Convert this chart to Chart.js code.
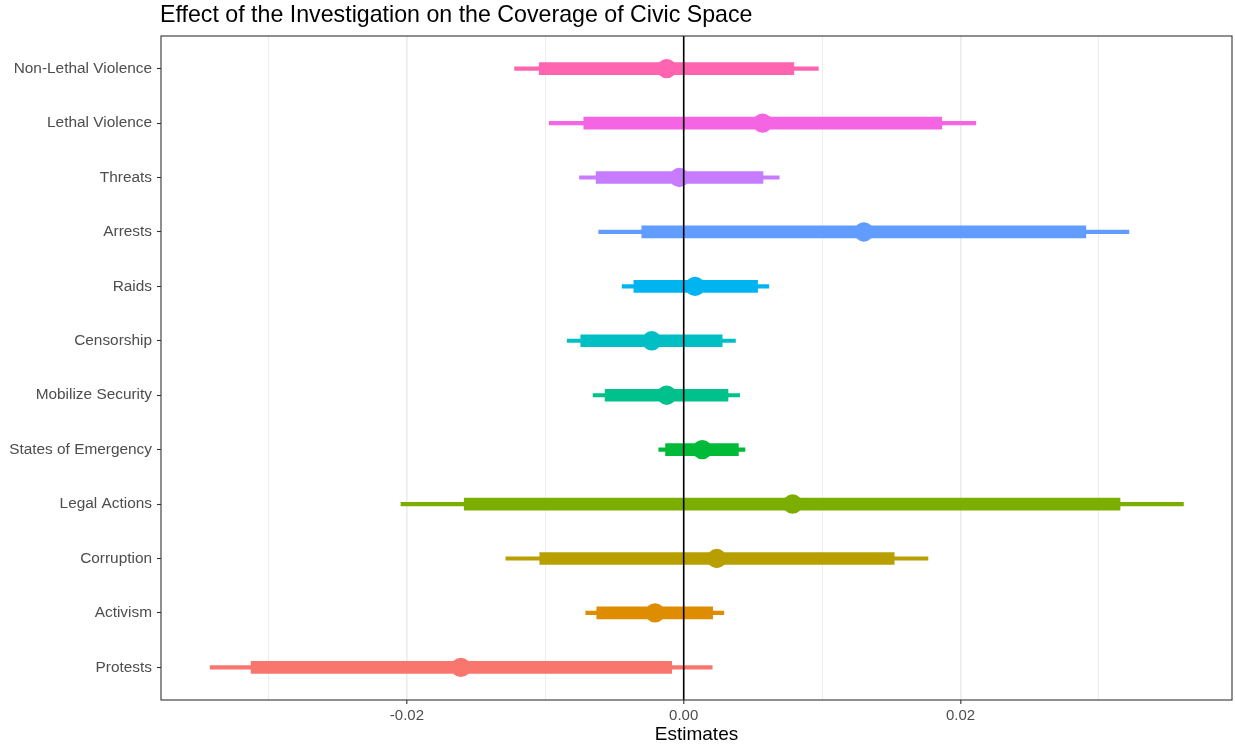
<!DOCTYPE html>
<html>
<head>
<meta charset="utf-8">
<script src="https://cdn.jsdelivr.net/npm/chart.js@4.4.1/dist/chart.umd.min.js"></script>
<style>
  body { margin: 0; background: #fff; overflow: hidden; }
  .wrap { width: 1235px; height: 746px; }
</style>
</head>
<body>
<div class="wrap"><canvas id="myChart"></canvas></div>
<script>
// rows from bottom (1) to top (12)
const categories = ["Protests", "Activism", "Corruption", "Legal Actions", "States of Emergency",
  "Mobilize Security", "Censorship", "Raids", "Arrests", "Threats", "Lethal Violence", "Non-Lethal Violence"];
const estimates = [-0.0161, -0.00207, 0.00239, 0.00787, 0.00134, -0.00123, -0.00231, 0.00082, 0.01302, -0.00032, 0.0057, -0.00123];
const low90 = [-0.03126, -0.00628, -0.0104, -0.01586, -0.00131, -0.00568, -0.00744, -0.0036, -0.00303, -0.00633, -0.00722, -0.01044];
const high90 = [-0.00087, 0.00209, 0.01521, 0.03153, 0.00395, 0.0032, 0.00278, 0.00534, 0.02906, 0.00573, 0.01865, 0.00796];
const low95 = [-0.03422, -0.00708, -0.01285, -0.02043, -0.0018, -0.00655, -0.00842, -0.00445, -0.00614, -0.00753, -0.00972, -0.01222];
const high95 = [0.00206, 0.0029, 0.01765, 0.03611, 0.00443, 0.00404, 0.00374, 0.00615, 0.03217, 0.0069, 0.02111, 0.00973];
const colors = ["#F8766D", "#DE8C00", "#B79F00", "#7CAE00", "#00BA38", "#00C08B",
  "#00BFC4", "#00B4F0", "#619CFF", "#C77CFF", "#F564E3", "#FF64B0"];
const xTicks = [-0.03, -0.02, -0.01, 0, 0.01, 0.02, 0.03];
const xLabels = { "-0.02": "-0.02", "0": "0.00", "0.02": "0.02" };
const titleText = "Effect of the Investigation on the Coverage of Civic Space";
const refLine = 0;

const fontFam = '"Liberation Sans", Arial, sans-serif';

const labelFor = (v) => xLabels[String(Math.round(v * 100) / 100)];
const isMajor = (c) => !!(c && c.tick && labelFor(c.tick.value) !== undefined);

const panelPlugin = {
    id: "panel",
    afterDatasetsDraw(chart) {
        const { ctx, chartArea, scales } = chart;
        const px = scales.x.getPixelForValue(refLine);
        ctx.save();
        ctx.strokeStyle = "#000";
        ctx.lineWidth = 1.6;
        ctx.beginPath();
        ctx.moveTo(px, chartArea.top);
        ctx.lineTo(px, chartArea.bottom);
        ctx.stroke();
        ctx.restore();
    },
    afterDraw(chart) {
        const { ctx, chartArea } = chart;
        ctx.save();
        ctx.strokeStyle = "#333333";
        ctx.lineWidth = 1.1;
        ctx.strokeRect(chartArea.left, chartArea.top, chartArea.right - chartArea.left, chartArea.bottom - chartArea.top);
        ctx.fillStyle = "#000";
        ctx.font = "23.2px " + fontFam;
        ctx.textBaseline = "alphabetic";
        ctx.textAlign = "left";
        ctx.fillText(titleText, 160, 22);
        ctx.restore();
    }
};

const rangeData = (lo, hi) => categories.map((c, i) => ({ y: i + 1, x: [lo[i], hi[i]] }));

new Chart(document.getElementById("myChart"), {
    type: "bar",
    data: {
        datasets: [
            {
                type: "scatter",
                data: categories.map((c, i) => ({ x: estimates[i], y: i + 1 })),
                backgroundColor: colors,
                borderWidth: 0,
                pointRadius: 9.7,
                order: 0
            },
            {
                type: "bar",
                indexAxis: "y",
                data: rangeData(low90, high90),
                backgroundColor: colors,
                barThickness: 12,
                grouped: false,
                borderSkipped: false,
                borderWidth: 0,
                order: 1
            },
            {
                type: "bar",
                indexAxis: "y",
                data: rangeData(low95, high95),
                backgroundColor: colors,
                barThickness: 3.5,
                grouped: false,
                borderSkipped: false,
                borderWidth: 0,
                order: 2
            }
        ]
    },
    options: {
        responsive: true,
        maintainAspectRatio: false,
        animation: false,
        layout: { autoPadding: false, padding: { top: 36, right: 3, bottom: 0, left: 0 } },
        plugins: { legend: { display: false }, tooltip: { enabled: false } },
        scales: {
            x: {
                type: "linear",
                position: "bottom",
                offset: false,
                min: -0.03777,
                max: 0.03962,
                afterBuildTicks: (scale) => { scale.ticks = xTicks.map(v => ({ value: v })); },
                afterFit: (scale) => {
                    scale.height = 46;
                    scale.paddingLeft = 0;
                    scale.paddingRight = 0;
                },
                border: { display: false },
                grid: {
                    offset: false,
                    color: "#EBEBEB",
                    lineWidth: (c) => isMajor(c) ? 1.6 : 0.9,
                    tickColor: (c) => isMajor(c) ? "#333333" : "rgba(0,0,0,0)",
                    tickLength: 4,
                    tickWidth: 1.1
                },
                ticks: {
                    padding: 3,
                    maxRotation: 0,
                    autoSkip: false,
                    color: "#4D4D4D",
                    font: { family: fontFam, size: 15 },
                    callback: (v) => labelFor(v) || ""
                },
                title: {
                    display: true,
                    text: "Estimates",
                    color: "#000",
                    font: { family: fontFam, size: 19 },
                    padding: { top: 0, bottom: 0 }
                }
            },
            y: {
                type: "linear",
                position: "left",
                offset: false,
                min: 0.4,
                max: 12.6,
                afterBuildTicks: (scale) => { scale.ticks = categories.map((c, i) => ({ value: i + 1 })); },
                afterFit: (scale) => { scale.width = 161; },
                border: { display: false },
                grid: {
                    offset: false,
                    drawOnChartArea: false,
                    tickLength: 4,
                    tickColor: "#333333",
                    tickWidth: 1.1
                },
                ticks: {
                    padding: 5,
                    autoSkip: false,
                    color: "#4D4D4D",
                    font: { family: fontFam, size: 15.4 },
                    callback: (v) => categories[Math.round(v) - 1] || ""
                }
            }
        }
    },
    plugins: [panelPlugin]
});
</script>
</body>
</html>
